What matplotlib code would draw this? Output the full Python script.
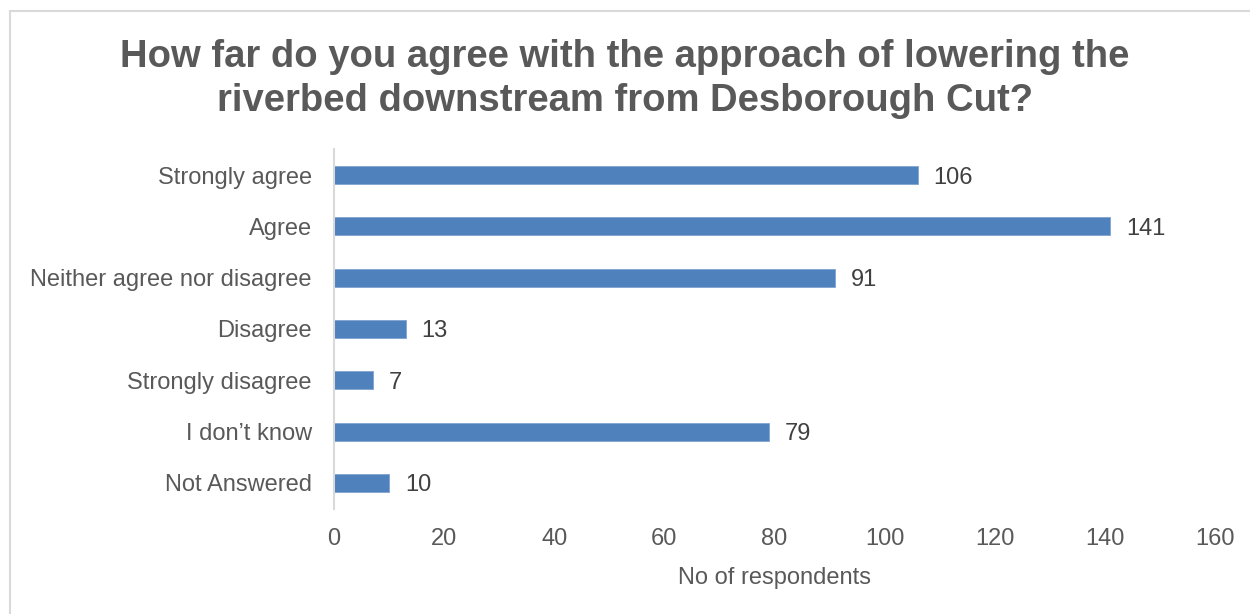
import matplotlib.pyplot as plt
from matplotlib.patches import Rectangle

plt.rcParams["font.family"] = ["Liberation Sans", "DejaVu Sans"]

categories = [
    "Strongly agree",
    "Agree",
    "Neither agree nor disagree",
    "Disagree",
    "Strongly disagree",
    "I don\u2019t know",
    "Not Answered",
]
respondents = [106, 141, 91, 13, 7, 79, 10]
x_ticks = [0, 20, 40, 60, 80, 100, 120, 140, 160]

TEXT = "#595959"
BAR = "#4F81BD"

fig = plt.figure(figsize=(12.5, 6.14), dpi=100)
ax = fig.add_axes([0.2672, 0.1717, 0.7048, 0.585])

# chart area border (runs off the right and bottom edges)
fig.patches.append(Rectangle((10 / 1250, -0.1), 1.2, 1 - 11 / 614 + 0.1,
                             transform=fig.transFigure, fill=False,
                             edgecolor="#D9D9D9", linewidth=1.5))

ypos = list(range(len(categories)))
ax.barh(ypos, respondents, height=0.35, color=BAR, edgecolor="#7FA3D1",
        linewidth=0.6)

for y, v in zip(ypos, respondents):
    ax.text(v + 2.9, y, str(v), va="center_baseline", ha="left", fontsize=17,
            color="#404040")

ax.set_xlim(0, 160)
ax.set_ylim(len(categories) - 0.5, -0.5)
ax.set_xticks(x_ticks)
ax.set_yticks(ypos)
ax.set_yticklabels(categories)
ax.tick_params(axis="both", length=0, labelsize=17, colors=TEXT)
ax.tick_params(axis="x", pad=14)
ax.tick_params(axis="y", pad=16)

for side in ["top", "right", "bottom"]:
    ax.spines[side].set_visible(False)
ax.spines["left"].set_color("#D9D9D9")
ax.spines["left"].set_linewidth(1.5)

ax.set_xlabel("No of respondents", fontsize=17, color=TEXT, labelpad=12)

fig.text(0.5, 1 - 79 / 614,
         "How far do you agree with the approach of lowering the\n"
         "riverbed downstream from Desborough Cut?",
         ha="center", va="center", fontsize=27.5, fontweight="bold",
         color=TEXT, linespacing=1.26)

plt.savefig("out.png", dpi=100)
plt.close()
